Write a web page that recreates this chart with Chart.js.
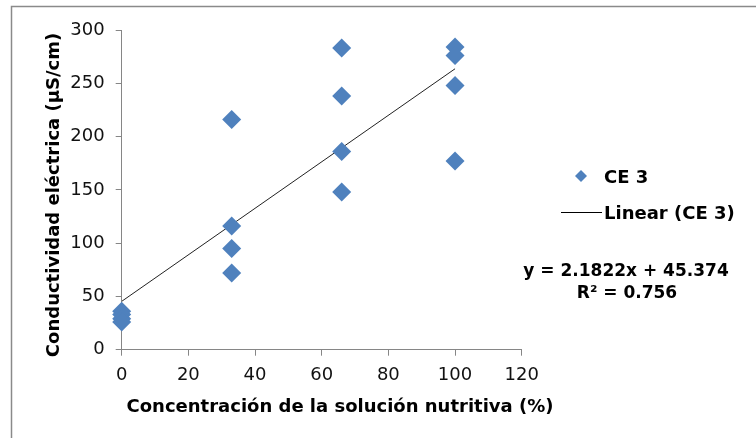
<!DOCTYPE html>
<html>
<head>
<meta charset="utf-8">
<title>Conductividad eléctrica</title>
<script src="https://cdn.jsdelivr.net/npm/chart.js@4/dist/chart.umd.min.js"></script>
<style>
    html, body { margin: 0; padding: 0; background: #fff; overflow: hidden; }
    canvas { display: block; }
</style>
</head>
<body>
<canvas id="chart-ce3" width="756" height="438"></canvas>
<script>
// concentración (%) y CE medida por repetición
const concentracion = [0, 0, 0, 0, 33, 33, 33, 33, 66, 66, 66, 66, 100, 100, 100, 100];
const ce3 = [36, 33, 29, 26, 216, 116, 95, 72, 283, 238, 186, 148, 284, 276, 248, 177];

// ajuste lineal (Excel)
const pendiente = 2.1822;
const intercepto = 45.374;
const r2 = 0.756;
const rangoTendencia = [0, 100];

const xTicks = [0, 20, 40, 60, 80, 100, 120];
const yTicks = [0, 50, 100, 150, 200, 250, 300];

const FONT = "'DejaVu Sans', sans-serif";
const AZUL = '#4f81bd';
const GRIS_EJE = '#868686';

const puntos = concentracion.map((x, i) => ({ x: x, y: ce3[i] }));
const tendencia = rangoTendencia.map(x => ({ x: x, y: intercepto + pendiente * x }));

function diamante(ctx, x, y, r) {
    ctx.beginPath();
    ctx.moveTo(x, y - r);
    ctx.lineTo(x + r, y);
    ctx.lineTo(x, y + r);
    ctx.lineTo(x - r, y);
    ctx.closePath();
    ctx.fill();
}

// marco, títulos de ejes, leyenda y ecuación
const extras = {
    id: 'extras',
    beforeDraw(chart) {
        const ctx = chart.ctx;
        ctx.save();
        ctx.fillStyle = '#fff';
        ctx.fillRect(0, 0, chart.width, chart.height);
        ctx.strokeStyle = '#8a8a8a';
        ctx.lineWidth = 1.5;
        ctx.beginPath();
        ctx.moveTo(11.5, chart.height);
        ctx.lineTo(11.5, 6.5);
        ctx.lineTo(chart.width, 6.5);
        ctx.stroke();
        ctx.restore();
    },
    afterDraw(chart) {
        const ctx = chart.ctx;
        ctx.save();
        ctx.fillStyle = '#000';
        ctx.font = 'bold 18px ' + FONT;

        // título eje Y
        ctx.save();
        ctx.translate(54, 195);
        ctx.rotate(-Math.PI / 2);
        ctx.textAlign = 'center';
        ctx.textBaseline = 'middle';
        ctx.fillText('Conductividad eléctrica (µS/cm)', 0, 0);
        ctx.restore();

        ctx.textBaseline = 'alphabetic';
        ctx.textAlign = 'center';
        ctx.fillText('Concentración de la solución nutritiva (%)', 340, 412);

        // leyenda
        ctx.fillStyle = AZUL;
        diamante(ctx, 581, 176, 6);
        ctx.fillStyle = '#000';
        ctx.textAlign = 'left';
        ctx.fillText('CE 3', 604, 183);

        ctx.strokeStyle = '#000';
        ctx.lineWidth = 1;
        ctx.beginPath();
        ctx.moveTo(561, 212.5);
        ctx.lineTo(602, 212.5);
        ctx.stroke();
        ctx.fillText('Linear (CE 3)', 604, 219);

        ctx.font = 'bold 17px ' + FONT;
        ctx.textAlign = 'center';
        ctx.fillText('y = ' + pendiente + 'x + ' + intercepto, 626, 276);
        ctx.fillText('R² = ' + r2, 627, 298);
        ctx.restore();
    }
};

const ctx = document.getElementById('chart-ce3').getContext('2d');
new Chart(ctx, {
    type: 'scatter',
    data: {
        datasets: [
            {
                label: 'CE 3',
                data: puntos,
                pointStyle: 'rectRot',
                pointRadius: 9.5,
                pointHoverRadius: 9.5,
                backgroundColor: AZUL,
                borderColor: AZUL,
                borderWidth: 0,
                clip: false
            },
            {
                label: 'Linear (CE 3)',
                type: 'line',
                data: tendencia,
                borderColor: '#222',
                borderWidth: 1,
                pointRadius: 0,
                fill: false,
                tension: 0
            }
        ]
    },
    options: {
        responsive: false,
        animation: false,
        layout: { padding: { top: 30, right: 234.3, left: 0, bottom: 0 } },
        plugins: {
            legend: { display: false },
            tooltip: { enabled: false }
        },
        scales: {
            x: {
                type: 'linear',
                min: 0,
                max: 120,
                afterBuildTicks: s => { s.ticks = xTicks.map(v => ({ value: v })); },
                afterFit: s => { s.height = 88.3; },
                grid: { drawOnChartArea: false, color: GRIS_EJE, tickLength: 6 },
                border: { color: GRIS_EJE, width: 1 },
                ticks: { color: '#111', padding: 9, font: { family: FONT, size: 18 } }
            },
            y: {
                type: 'linear',
                min: 0,
                max: 300,
                afterBuildTicks: s => { s.ticks = yTicks.map(v => ({ value: v })); },
                afterFit: s => { s.width = 121.7; },
                grid: { drawOnChartArea: false, color: GRIS_EJE, tickLength: 6 },
                border: { color: GRIS_EJE, width: 1 },
                ticks: { color: '#111', padding: 11, font: { family: FONT, size: 18 } }
            }
        }
    },
    plugins: [extras]
});
</script>
</body>
</html>
